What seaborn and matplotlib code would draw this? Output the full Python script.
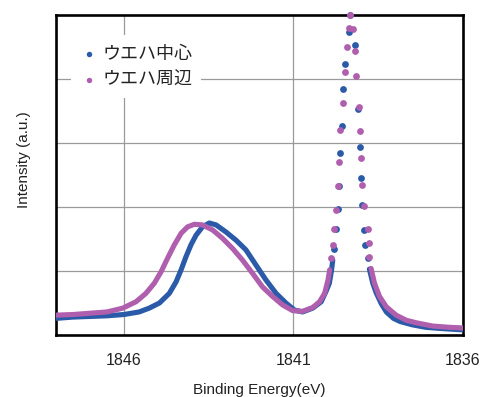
import matplotlib
matplotlib.use("Agg")
import matplotlib.pyplot as plt
import seaborn as sns
import pandas as pd

# ---- data ----
labels = ["ウエハ中心", "ウエハ周辺"]
colors = ["#2B5BA8", "#AF5FAE"]

# 中心 (blue): broad band left of peak
c_left_x = [1848.0, 1847.5, 1847.0, 1846.5, 1846.0, 1845.55, 1845.25, 1844.95, 1844.66, 1844.46,
            1844.31, 1844.17, 1844.02, 1843.87, 1843.68, 1843.48, 1843.28, 1842.99, 1842.69, 1842.40,
            1842.10, 1841.81, 1841.51, 1841.22, 1840.97, 1840.73, 1840.43, 1840.18, 1840.04, 1839.94,
            1839.88, 1839.84]
c_left_y = [0.26, 0.28, 0.29, 0.30, 0.32, 0.36, 0.42, 0.50, 0.65, 0.83,
            1.02, 1.22, 1.41, 1.56, 1.69, 1.75, 1.72, 1.61, 1.48, 1.33,
            1.09, 0.86, 0.65, 0.50, 0.39, 0.36, 0.42, 0.52, 0.68, 0.81,
            1.00, 1.17]
# 中心: individual points around the sharp peak
c_peak_x = [1839.81, 1839.74, 1839.69, 1839.67, 1839.62, 1839.58, 1839.53, 1839.47, 1839.35, 1839.33,
            1839.19, 1839.10, 1839.05, 1839.02, 1838.98, 1838.91, 1838.88, 1838.81]
c_peak_y = [1.35, 1.66, 1.97, 2.33, 2.84, 3.27, 3.84, 4.23, 4.74, 5.00,
            4.53, 3.53, 2.94, 2.45, 2.03, 1.64, 1.41, 1.20]
# 中心: tail right of peak
c_right_x = [1838.76, 1838.66, 1838.56, 1838.41, 1838.26, 1838.05, 1837.85, 1837.5, 1837.1, 1836.6, 1836.0]
c_right_y = [1.03, 0.81, 0.66, 0.49, 0.36, 0.26, 0.21, 0.16, 0.12, 0.10, 0.08]

# 周辺 (purple)
p_left_x = [1848.0, 1847.5, 1847.0, 1846.5, 1846.03, 1845.64, 1845.35, 1845.10, 1844.90, 1844.71,
            1844.51, 1844.31, 1844.12, 1843.92, 1843.68, 1843.38, 1843.09, 1842.79, 1842.50, 1842.20,
            1841.91, 1841.61, 1841.32, 1841.02, 1840.73, 1840.43, 1840.23, 1840.08, 1839.98, 1839.93]
p_left_y = [0.31, 0.32, 0.34, 0.36, 0.42, 0.52, 0.65, 0.81, 0.99, 1.20,
            1.41, 1.59, 1.69, 1.73, 1.72, 1.64, 1.51, 1.35, 1.17, 0.96,
            0.75, 0.60, 0.47, 0.38, 0.37, 0.43, 0.52, 0.65, 0.86, 1.02]
p_peak_x = [1839.89, 1839.84, 1839.79, 1839.73, 1839.69, 1839.66, 1839.62, 1839.53, 1839.47, 1839.42,
            1839.37, 1839.32, 1839.25, 1839.19, 1839.15, 1839.08, 1839.05, 1839.02, 1838.98, 1838.93,
            1838.81, 1838.78, 1838.76]
p_peak_y = [1.21, 1.40, 1.66, 1.95, 2.33, 2.71, 3.20, 3.63, 4.11, 4.50,
            4.80, 5.00, 4.78, 4.44, 4.05, 3.57, 3.19, 2.77, 2.34, 2.02,
            1.66, 1.43, 1.22]
p_right_x = [1838.71, 1838.61, 1838.46, 1838.26, 1837.97, 1837.67, 1837.37, 1836.9, 1836.4, 1836.0]
p_right_y = [1.04, 0.81, 0.60, 0.44, 0.31, 0.23, 0.19, 0.14, 0.12, 0.11]

x_ticks = [1846, 1841, 1836]
x_tick_labels = ["1846", "1841", "1836"]

# ---- styling ----
sns.set_theme(style="white")
plt.rcParams["font.family"] = ["Liberation Sans", "Noto Sans CJK JP", "DejaVu Sans"]

fig = plt.figure(figsize=(4.83, 3.97), dpi=100)
ax = fig.add_axes([56 / 483, 62 / 397, 407 / 483, 320 / 397])

series = [
    (labels[0], colors[0], c_left_x, c_left_y, c_peak_x, c_peak_y, c_right_x, c_right_y),
    (labels[1], colors[1], p_left_x, p_left_y, p_peak_x, p_peak_y, p_right_x, p_right_y),
]

for i, (lab, col, lx, ly, px, py, rx, ry) in enumerate(series):
    z = 3 + i
    for sx, sy in [(lx, ly), (rx, ry)]:
        sns.lineplot(x=sx, y=sy, ax=ax, color=col, linewidth=3.7, sort=False,
                     estimator=None, legend=False, zorder=z,
                     solid_capstyle="round", solid_joinstyle="round")
    sns.scatterplot(x=px, y=py, ax=ax, color=col, s=24, linewidth=0,
                    zorder=z, clip_on=False, label=lab)

ax.set_xlim(1848, 1836)
ax.set_ylim(0, 5)
ax.set_xticks(x_ticks)
ax.set_xticklabels(x_tick_labels)
ax.set_yticks([1, 2, 3, 4])
ax.set_yticklabels([])
ax.tick_params(axis="both", length=0, labelsize=11.5, colors="#222222")
ax.tick_params(axis="x", pad=13)

ax.grid(True, color="#9A9A9A", linewidth=0.9)
ax.set_axisbelow(True)
for s in ax.spines.values():
    s.set_visible(True)
    s.set_color("black")
    s.set_linewidth(1.9)
    s.set_zorder(2.5)

ax.set_xlabel("Binding Energy(eV)", fontsize=11, color="#222222", labelpad=11)
ax.set_ylabel("Intensity (a.u.)", fontsize=11, color="#222222")
ax.yaxis.set_label_coords(-0.062, 0.547)

leg = ax.legend(loc="upper left", bbox_to_anchor=(0.037, 0.936), borderaxespad=0,
                frameon=True, facecolor="white", edgecolor="none", framealpha=1,
                fontsize=13, markerscale=0.8, handletextpad=0.22, labelspacing=0.45,
                borderpad=0.5, handlelength=1.0)
leg.set_zorder(6)
for t in leg.get_texts():
    t.set_family(["Noto Sans CJK JP", "DejaVu Sans"])
    t.set_color("#222222")

fig.savefig("out.png", dpi=100)
